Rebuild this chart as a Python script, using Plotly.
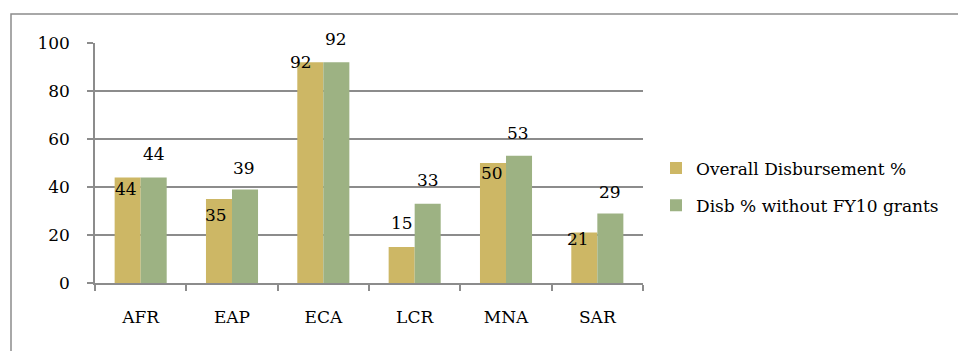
import plotly.graph_objects as go

# ---- data ----
regions = ["AFR", "EAP", "ECA", "LCR", "MNA", "SAR"]
overall_pct = [44, 35, 92, 15, 50, 21]
disb_wo_fy10 = [44, 39, 92, 33, 53, 29]
series_names = ["Overall Disbursement %", "Disb % without FY10 grants"]
y_ticks = [0, 20, 40, 60, 80, 100]

# ---- style ----
GOLD = "#CDB765"
GREEN = "#9DB283"
GRID = "#8C8C8C"
FONT = "DejaVu Serif"
FS = 17

W, H = 958, 351
L, R, T, B = 95, 315, 43, 68
plot_w = W - L - R
plot_h = H - T - B
BARGAP = 0.43

# label placement relative to the top centre of each bar (dx, dy in px; dy > 0 is upward)
overall_label_shift = [(-2, -12), (-3, -16), (-9, 0), (0, 24), (-1, -10), (-6, -6)]
disb_label_shift = [(0, 23), (-1, 21), (0, 23), (0, 24), (-1, 23), (0, 21)]

fig = go.Figure()
series = [overall_pct, disb_wo_fy10]
colors = [GOLD, GREEN]
for i, (name, vals, color) in enumerate(zip(series_names, series, colors)):
    fig.add_trace(go.Bar(
        x=regions, y=vals, name=name, legendgroup=f"g{i}",
        marker=dict(color=color, line=dict(width=0)),
        hoverinfo="x+y+name",
    ))

# value labels
cat_w = plot_w / len(regions)
bar_w = cat_w * (1 - BARGAP) / 2
annotations = []
for side, vals, shifts in ((-1, overall_pct, overall_label_shift),
                           (1, disb_wo_fy10, disb_label_shift)):
    for cat, v, (dx, dy) in zip(regions, vals, shifts):
        annotations.append(dict(
            x=cat, y=v, xref="x", yref="y", text=str(v), showarrow=False,
            xshift=side * bar_w / 2 + dx, yshift=dy,
            xanchor="center", yanchor="middle",
            font=dict(family=FONT, size=FS, color="black"),
        ))

# outer chart frame (left and top edges visible; the rest runs off the canvas)
shapes = [dict(
    type="rect", xref="paper", yref="paper", layer="below",
    x0=(11 - L) / plot_w, x1=(1020 - L) / plot_w,
    y0=(H - B - 420) / plot_h, y1=(H - B - 14) / plot_h,
    line=dict(color=GRID, width=1.5), fillcolor="rgba(0,0,0,0)",
)]

fig.update_layout(
    width=W, height=H,
    margin=dict(l=L, r=R, t=T, b=B, pad=0, autoexpand=False),
    paper_bgcolor="white", plot_bgcolor="white",
    barmode="group", bargap=BARGAP, bargroupgap=0,
    font=dict(family=FONT, size=FS, color="black"),
    showlegend=True,
    legend=dict(
        x=(656 - L) / plot_w, xanchor="left",
        y=(H - B - 187) / plot_h, yanchor="middle",
        traceorder="grouped", tracegroupgap=12,
        font=dict(family=FONT, size=FS, color="black"),
        bgcolor="rgba(0,0,0,0)", borderwidth=0,
    ),
    xaxis=dict(
        type="category", categoryorder="array", categoryarray=regions,
        showline=True, linecolor=GRID, linewidth=1.5,
        ticks="outside", tickson="boundaries", ticklen=6, tickcolor=GRID, tickwidth=1.5,
        showgrid=False, ticklabelstandoff=18, automargin=False,
        tickfont=dict(family=FONT, size=FS, color="black"),
    ),
    yaxis=dict(
        range=[0, 100], tickvals=y_ticks,
        showline=True, linecolor=GRID, linewidth=1.5,
        ticks="outside", ticklen=6, tickcolor=GRID, tickwidth=1.5,
        showgrid=True, gridcolor=GRID, gridwidth=1.5,
        zeroline=False, ticklabelstandoff=14, automargin=False,
        tickfont=dict(family=FONT, size=FS, color="black"),
    ),
    annotations=annotations,
    shapes=shapes,
)

fig.write_html("out.html")
